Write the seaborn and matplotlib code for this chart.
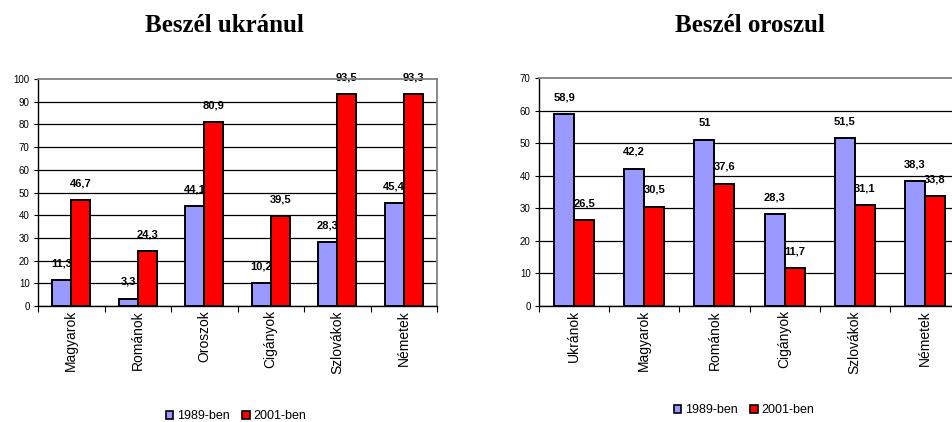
import matplotlib
matplotlib.use("Agg")
import matplotlib.pyplot as plt
from matplotlib.patches import Patch
from matplotlib.ticker import FixedLocator, NullFormatter
import seaborn as sns
import pandas as pd

# DATA
ukr_groups = ["Magyarok", "Románok", "Oroszok", "Cigányok", "Szlovákok", "Németek"]
ukr_1989 = [11.3, 3.3, 44.1, 10.2, 28.3, 45.4]
ukr_2001 = [46.7, 24.3, 80.9, 39.5, 93.5, 93.3]

rus_groups = ["Ukránok", "Magyarok", "Románok", "Cigányok", "Szlovákok", "Németek"]
rus_1989 = [58.9, 42.2, 51, 28.3, 51.5, 38.3]
rus_2001 = [26.5, 30.5, 37.6, 11.7, 31.1, 33.8]

years = ["1989-ben", "2001-ben"]
colors = ["#9999FF", "#FF0000"]

sns.set_theme(style="white")
plt.rcParams["font.family"] = ["Liberation Sans", "DejaVu Sans"]
plt.rcParams["text.color"] = "black"
plt.rcParams["xtick.color"] = "black"
plt.rcParams["ytick.color"] = "black"
plt.rcParams["axes.labelcolor"] = "black"

fig = plt.figure(figsize=(9.52, 4.22), dpi=100)


def fmt(v):
    s = f"{v:g}"
    return s.replace(".", ",")


def draw(ax, groups, v1989, v2001, ymax):
    df = pd.DataFrame({
        "group": groups * 2,
        "value": v1989 + v2001,
        "year": [years[0]] * len(groups) + [years[1]] * len(groups),
    })
    sns.barplot(data=df, x="group", y="value", hue="year", palette=colors,
                saturation=1, width=0.57, gap=0, edgecolor="black",
                linewidth=1.4, legend=False, ax=ax)
    for p in ax.patches:
        p.set_zorder(3)

    # data labels sit under the bars (as in Excel)
    n = len(groups)
    w = 0.57 / 2
    for i in range(n):
        for j, vals in enumerate([v1989, v2001]):
            x = i - w / 2 + j * w
            ax.annotate(fmt(vals[i]), (x, vals[i]), xytext=(0, 12),
                        textcoords="offset points", ha="center", va="center",
                        fontsize=8, fontweight="bold", color="black", zorder=2)

    ax.set_xlim(-0.5, n - 0.5)
    ax.set_ylim(0, ymax)
    ax.set_yticks(range(0, ymax + 1, 10))
    ax.yaxis.grid(True, color="black", linewidth=0.9)
    ax.set_axisbelow(True)
    ax.tick_params(axis="y", labelsize=7, length=3, width=0.8, left=True,
                   pad=3, colors="black")

    # ticks at group boundaries, labels at group centres
    ax.xaxis.set_major_locator(FixedLocator([k - 0.5 for k in range(n + 1)]))
    ax.xaxis.set_major_formatter(NullFormatter())
    ax.xaxis.set_minor_locator(FixedLocator(list(range(n))))
    ax.set_xticklabels(groups, minor=True, rotation=90, fontsize=10)
    ax.tick_params(axis="x", which="major", length=4, width=0.8, bottom=True,
                   colors="black")
    ax.tick_params(axis="x", which="minor", length=0, pad=3, colors="black")

    ax.set_xlabel("")
    ax.set_ylabel("")
    for side in ["left", "bottom"]:
        ax.spines[side].set_color("black")
        ax.spines[side].set_linewidth(1.0)
    for side in ["top", "right"]:
        ax.spines[side].set_color("#808080")
        ax.spines[side].set_linewidth(1.3)
    # top gridline replaced by the grey border
    ax.yaxis.get_gridlines()[-1].set_visible(False)


ax1 = fig.add_axes([38 / 952, 116 / 422, 399 / 952, 227 / 422])
draw(ax1, ukr_groups, ukr_1989, ukr_2001, 100)

ax2 = fig.add_axes([539 / 952, 116 / 422, 421 / 952, 228 / 422])
draw(ax2, rus_groups, rus_1989, rus_2001, 70)

fig.text(224 / 952, 1 - 32 / 422, "Beszél ukránul", ha="center", va="baseline",
         fontsize=18, fontweight="bold", family="Liberation Serif", color="black")
fig.text(750 / 952, 1 - 32 / 422, "Beszél oroszul", ha="center", va="baseline",
         fontsize=18, fontweight="bold", family="Liberation Serif", color="black")

handles = [Patch(facecolor=c, edgecolor="black", linewidth=1.2, label=l)
           for c, l in zip(colors, years)]
for cx, cy in [(236, 416), (744, 410)]:
    fig.legend(handles=handles, loc="center", bbox_to_anchor=(cx / 952, 1 - cy / 422),
               ncol=2, frameon=False, fontsize=9, handlelength=0.6,
               handleheight=0.6, handletextpad=0.3, columnspacing=1.0,
               borderpad=0, labelcolor="black")

fig.savefig("out.png", dpi=100)
